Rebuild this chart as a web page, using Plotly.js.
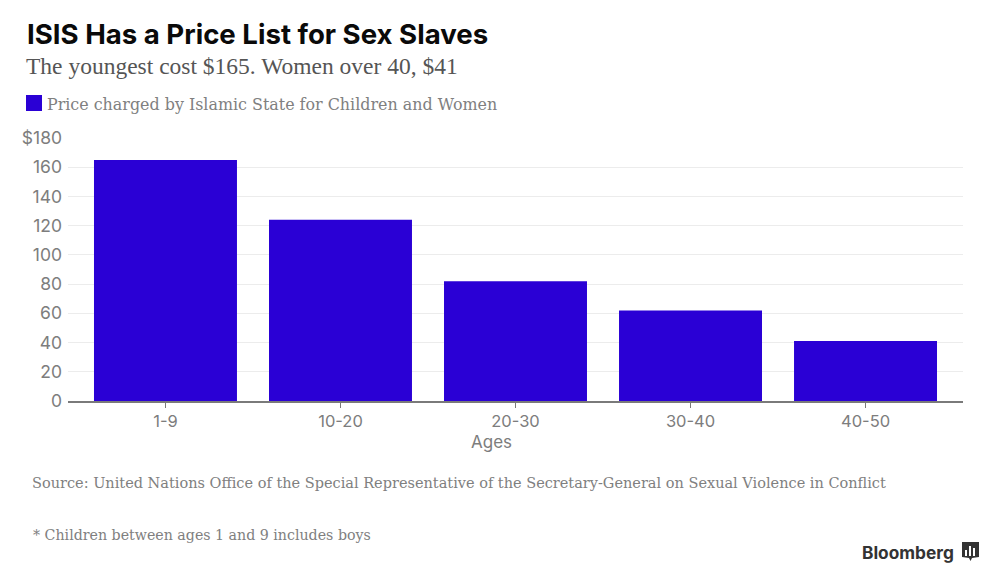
<!DOCTYPE html>
<html><head><meta charset="utf-8">
<script src="https://cdn.plot.ly/plotly-3.0.1.min.js"></script>
<style>html,body{margin:0;padding:0;background:#fff}#c{width:1000px;height:574px}</style>
</head><body><div id="c"></div><script>
const categories = ["1-9","10-20","20-30","30-40","40-50"];
const prices = [165,124,82,62,41];
const tickVals = [0,20,40,60,80,100,120,140,160,180];
const tickText = ["0","20","40","60","80","100","120","140","160","$180"];
const seriesName = "Price charged by Islamic State for Children and Women";
const W=1000,H=574,L=68,R=37,T=138,B=173;
const px=x=>(x-L)/(W-L-R), py=y=>1-(y-T)/(H-T-B);
const SANS="Inter, 'Liberation Sans', sans-serif", SERIF="'Liberation Serif', serif", SLAB="'DejaVu Serif', serif";
function note(text,x,y,size,color,family,extra){
  return Object.assign({text,x:px(x),y:py(y),xref:'paper',yref:'paper',xanchor:'left',yanchor:'middle',showarrow:false,
    font:{size,color,family}},extra||{});
}
function box(x0,y0,x1,y1,color){
  return {type:'rect',xref:'paper',yref:'paper',x0:px(x0),x1:px(x1),y0:py(y0),y1:py(y1),fillcolor:color,line:{width:0},layer:'above'};
}
Plotly.newPlot('c',[{
  type:'bar',x:categories,y:prices,name:seriesName,marker:{color:'#2a00d5'},hoverinfo:'x+y'
}],{
  width:W,height:H,margin:{l:L,r:R,t:T,b:B,pad:0},
  paper_bgcolor:'#fff',plot_bgcolor:'#fff',showlegend:false,bargap:0.183,
  xaxis:{type:'category',range:[-0.557,4.557],showgrid:false,zeroline:false,showline:true,linecolor:'#7a7a7a',linewidth:1.5,
    ticks:'outside',ticklen:5,tickcolor:'#7a7a7a',tickwidth:1,ticklabelstandoff:-1,tickfont:{family:SANS,size:16.5,color:'#7d7d7d'}},
  yaxis:{range:[0,180],tickvals:tickVals,ticktext:tickText,showgrid:true,gridcolor:'#ececec',gridwidth:1,zeroline:false,
    ticks:'',ticklabelstandoff:5,tickfont:{family:SANS,size:17.5,color:'#7d7d7d'}},
  annotations:[
    note("<b>ISIS Has a Price List for Sex Slaves</b>",25,34,27.6,'#0a0a0a',SANS),
    note("The youngest cost $165. Women over 40, $41",24,66,23.5,'#555',SERIF),
    note(seriesName,45,105,15.9,'#808080',SLAB),
    note("Ages",491,442,17,'#7d7d7d',SANS,{xanchor:'center'}),
    note("Source: United Nations Office of the Special Representative of the Secretary-General on Sexual Violence in Conflict",30,483,14.5,'#808080',SLAB),
    note("* Children between ages 1 and 9 includes boys",31,535,14.2,'#808080',SLAB),
    note("<b>Bloomberg</b>",860,552,17.3,'#333',SANS)
  ],
  shapes:[
    box(26,95,42,111,'#2a00d5'),
    {type:'path',xref:'paper',yref:'paper',fillcolor:'#333',line:{width:0},layer:'above',
     path:`M ${px(962)} ${py(542)} L ${px(979)} ${py(542)} L ${px(979)} ${py(557)} L ${px(972)} ${py(558)} L ${px(970.5)} ${py(561)} L ${px(969)} ${py(558)} L ${px(962)} ${py(557)} Z`},
    box(965,550,967,556,'#fff'),box(969,546,971,556,'#fff'),box(973,548,975,556,'#fff')
  ]
},{displayModeBar:false,responsive:false});
</script></body></html>
